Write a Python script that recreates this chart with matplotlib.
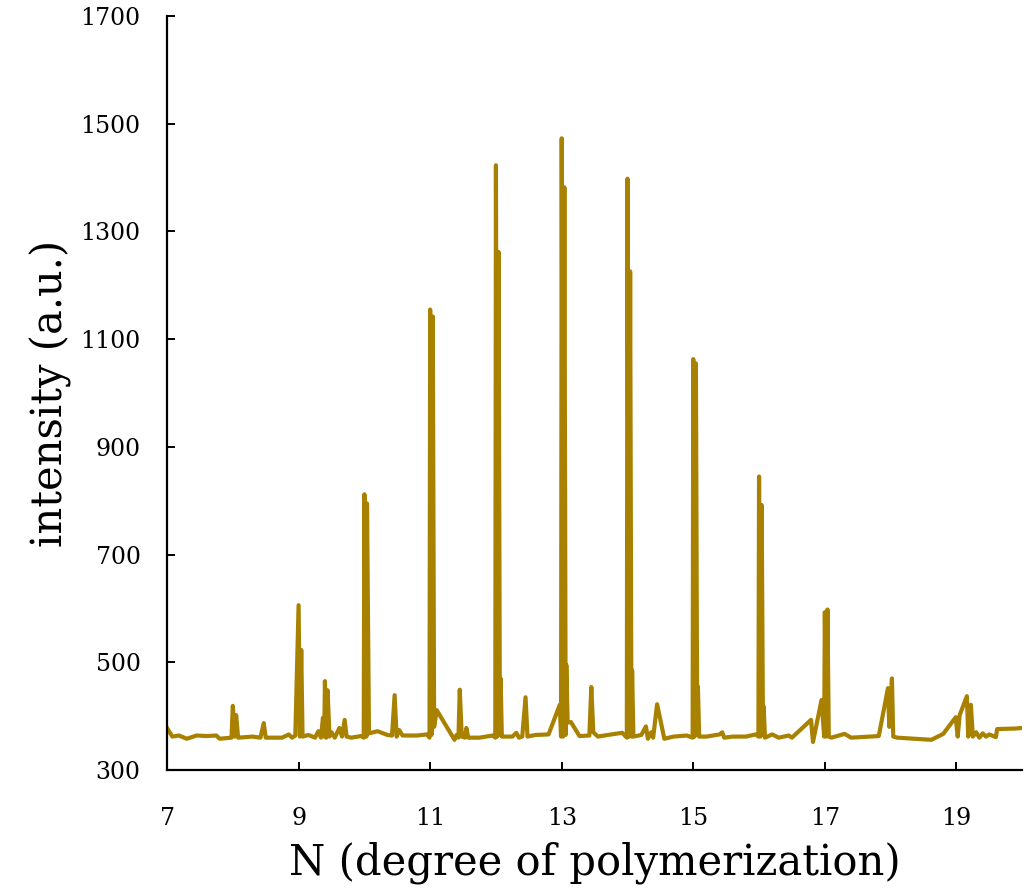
import matplotlib
matplotlib.use('Agg')
import matplotlib.pyplot as plt

# spectrum: N (degree of polymerization) vs intensity
n_values = [
    7.00, 7.08, 7.18, 7.30, 7.45, 7.60, 7.75, 7.80, 7.98, 8.00, 8.03, 8.05, 8.08,
    8.30, 8.42, 8.47, 8.50, 8.75, 8.85, 8.90, 8.95, 9.00, 9.02, 9.04, 9.06,
    9.15, 9.25, 9.30, 9.34, 9.37, 9.39, 9.40, 9.42, 9.44, 9.47, 9.50, 9.55,
    9.62, 9.66, 9.70, 9.73, 9.80, 9.95, 9.99, 10.00, 10.03, 10.04, 10.07,
    10.20, 10.35, 10.42, 10.46, 10.49, 10.53, 10.58, 10.80, 10.95, 10.99,
    11.00, 11.02, 11.04, 11.06, 11.10, 11.37, 11.40, 11.43, 11.45, 11.48,
    11.53, 11.55, 11.58, 11.75, 11.95, 11.99, 12.00, 12.02, 12.04, 12.06,
    12.07, 12.09, 12.25, 12.31, 12.35, 12.40, 12.45, 12.48, 12.60, 12.80,
    12.97, 12.99, 13.00, 13.02, 13.04, 13.06, 13.07, 13.09, 13.14, 13.27,
    13.42, 13.45, 13.48, 13.55, 13.70, 13.92, 13.99, 14.00, 14.02, 14.04,
    14.06, 14.07, 14.09, 14.21, 14.28, 14.31, 14.36, 14.39, 14.45, 14.56,
    14.70, 14.90, 14.99, 15.00, 15.02, 15.04, 15.06, 15.07, 15.09, 15.20,
    15.40, 15.44, 15.47, 15.60, 15.80, 15.95, 15.99, 16.00, 16.02, 16.04,
    16.06, 16.07, 16.09, 16.20, 16.30, 16.45, 16.50, 16.79, 16.82, 16.95,
    16.99, 17.00, 17.02, 17.04, 17.06, 17.10, 17.30, 17.40, 17.82, 17.96,
    17.98, 18.02, 18.04, 18.10, 18.62, 18.80, 18.99, 19.02, 19.05, 19.16,
    19.18, 19.22, 19.25, 19.30, 19.35, 19.40, 19.45, 19.50, 19.60, 19.62,
    19.90, 20.00,
]
intensity = [
    378, 362, 364, 358, 364, 363, 364, 358, 360, 419, 362, 402, 360,
    362, 360, 387, 360, 360, 366, 360, 364, 606, 362, 523, 362,
    365, 360, 372, 360, 397, 362, 465, 360, 448, 362, 370, 360,
    378, 362, 393, 362, 360, 363, 360, 812, 362, 795, 368,
    372, 365, 364, 439, 362, 374, 364, 364, 366, 360,
    1155, 365, 1142, 380, 411, 356, 365, 360, 449, 362,
    360, 378, 360, 360, 364, 360, 1423, 362, 1262, 365,
    470, 362, 362, 369, 360, 362, 435, 362, 365, 366,
    421, 362, 1473, 362, 1382, 365, 495, 388, 389, 363,
    364, 454, 370, 362, 365, 369, 360, 1398, 362, 1226,
    362, 485, 362, 365, 381, 358, 370, 360, 422, 358,
    362, 364, 360, 1063, 362, 1055, 365, 455, 362, 362,
    366, 370, 360, 362, 362, 366, 362, 845, 362, 792,
    365, 418, 360, 366, 360, 364, 360, 393, 352, 430,
    362, 593, 362, 598, 362, 360, 367, 360, 363, 452,
    380, 470, 362, 360, 356, 367, 398, 362, 402, 437,
    362, 421, 362, 370, 360, 368, 362, 366, 361, 376,
    377, 378,
]

y_ticks = [300, 500, 700, 900, 1100, 1300, 1500, 1700]
x_ticks = [7, 9, 11, 13, 15, 17, 19]

plt.rcParams['font.family'] = ['DejaVu Serif']

fig = plt.figure(figsize=(10.35, 8.92), dpi=100)
ax = fig.add_axes([0.1614, 0.1368, 0.8262, 0.8452])

ax.plot(n_values, intensity, color='#A98100', linewidth=3.0, solid_joinstyle='round')

ax.set_xlim(7, 20)
ax.set_ylim(300, 1700)
ax.set_xticks(x_ticks)
ax.set_yticks(y_ticks)

for side in ['top', 'right']:
    ax.spines[side].set_visible(False)
for side in ['left', 'bottom']:
    ax.spines[side].set_linewidth(1.6)

ax.tick_params(axis='y', direction='in', length=6, width=1.4, labelsize=17, pad=19)
ax.tick_params(axis='x', direction='in', length=6, width=1.4, labelsize=17, pad=27)

ax.set_xlabel('N (degree of polymerization)', fontsize=30, labelpad=8)
ax.set_ylabel('intensity (a.u.)', fontsize=30, labelpad=6)

fig.savefig('out.png', dpi=100)
